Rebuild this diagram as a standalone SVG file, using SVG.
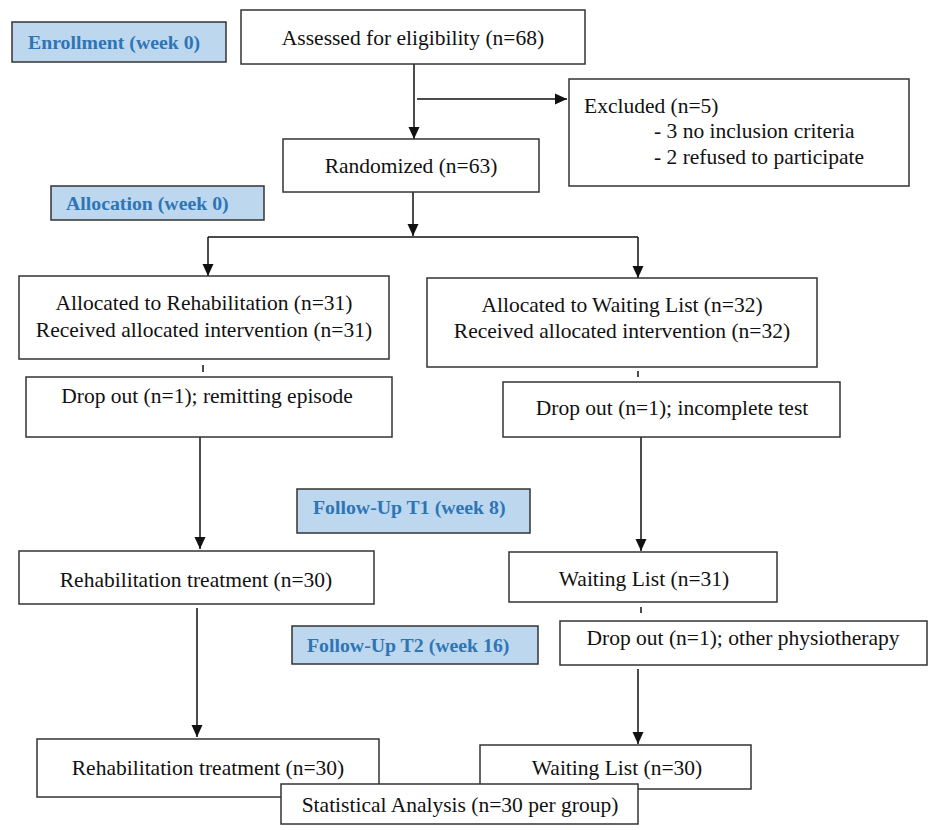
<svg xmlns="http://www.w3.org/2000/svg" width="935" height="830" viewBox="0 0 935 830">
<style>
.box{fill:#ffffff;stroke:#333333;stroke-width:1.5}
.lab{fill:#bdd7ee;stroke:#333333;stroke-width:1.5}
.t{font-family:"Liberation Serif","Times New Roman",serif;font-size:21.5px;fill:#111111}
.c{text-anchor:middle}
.lt{font-family:"Liberation Serif","Times New Roman",serif;font-size:19.8px;font-weight:bold;fill:#2e75b6}
.ln{stroke:#111111;stroke-width:1.5;fill:none}
</style>
<defs>
<marker id="ah" viewBox="0 0 12 12" refX="12" refY="6" markerWidth="12" markerHeight="12" markerUnits="userSpaceOnUse" orient="auto">
<path d="M0,0.5 L12,6 L0,11.5 Z" fill="#111111"/>
</marker>
</defs>
<rect width="935" height="830" fill="#ffffff"/>

<g id="connectors">
<line class="ln" x1="414" y1="64" x2="414" y2="139" marker-end="url(#ah)"/>
<line class="ln" x1="417" y1="99" x2="567" y2="99" marker-end="url(#ah)"/>
<line class="ln" x1="413" y1="192" x2="413" y2="236" marker-end="url(#ah)"/>
<line class="ln" x1="208" y1="237" x2="638" y2="237"/>
<line class="ln" x1="208" y1="237" x2="208" y2="276" marker-end="url(#ah)"/>
<line class="ln" x1="638" y1="237" x2="638" y2="278" marker-end="url(#ah)"/>
<line class="ln" x1="203" y1="365" x2="203" y2="372"/>
<line class="ln" x1="638" y1="371" x2="638" y2="377"/>
<line class="ln" x1="200" y1="437" x2="200" y2="549" marker-end="url(#ah)"/>
<line class="ln" x1="641" y1="437" x2="641" y2="551" marker-end="url(#ah)"/>
<line class="ln" x1="641" y1="607" x2="641" y2="613"/>
<line class="ln" x1="197" y1="608" x2="197" y2="737" marker-end="url(#ah)"/>
<line class="ln" x1="638" y1="669" x2="638" y2="744" marker-end="url(#ah)"/>
</g>

<g id="label-enrollment">
<rect class="lab" x="12" y="22" width="214" height="40"/>
<text class="lt" x="28" y="49">Enrollment (week 0)</text>
</g>
<g id="label-allocation">
<rect class="lab" x="51" y="186" width="213" height="34"/>
<text class="lt" x="66" y="210">Allocation (week 0)</text>
</g>
<g id="label-t1">
<rect class="lab" x="297" y="489" width="233" height="44"/>
<text class="lt" x="313" y="514">Follow-Up T1 (week 8)</text>
</g>
<g id="label-t2">
<rect class="lab" x="292" y="626" width="246" height="38"/>
<text class="lt" x="307" y="652">Follow-Up T2 (week 16)</text>
</g>

<g id="assessed">
<rect class="box" x="241" y="10" width="344" height="54"/>
<text class="t c" x="413" y="45">Assessed for eligibility (n=68)</text>
</g>
<g id="excluded">
<rect class="box" x="569" y="79" width="340" height="107"/>
<text class="t" x="584" y="113">Excluded (n=5)</text>
<text class="t" x="654" y="138">- 3 no inclusion criteria</text>
<text class="t" x="654" y="164">- 2 refused to participate</text>
</g>
<g id="randomized">
<rect class="box" x="283" y="139" width="256" height="53"/>
<text class="t c" x="411" y="173">Randomized (n=63)</text>
</g>
<g id="alloc-rehab">
<rect class="box" x="19" y="276" width="370" height="83"/>
<text class="t c" x="204" y="310">Allocated to Rehabilitation (n=31)</text>
<text class="t c" x="204" y="337">Received allocated intervention (n=31)</text>
</g>
<g id="alloc-wait">
<rect class="box" x="427" y="278" width="390" height="89"/>
<text class="t c" x="622" y="312">Allocated to Waiting List (n=32)</text>
<text class="t c" x="622" y="338">Received allocated intervention (n=32)</text>
</g>
<g id="drop-rehab">
<rect class="box" x="26" y="377" width="366" height="60"/>
<text class="t c" x="207" y="403">Drop out (n=1); remitting episode</text>
</g>
<g id="drop-wait">
<rect class="box" x="503" y="382" width="337" height="55"/>
<text class="t c" x="672" y="415">Drop out (n=1); incomplete test</text>
</g>
<g id="rehab-t1">
<rect class="box" x="19" y="551" width="355" height="53"/>
<text class="t c" x="196" y="587">Rehabilitation treatment (n=30)</text>
</g>
<g id="wait-t1">
<rect class="box" x="509" y="552" width="268" height="50"/>
<text class="t c" x="644" y="586">Waiting List (n=31)</text>
</g>
<g id="drop-wait-t2">
<rect class="box" x="560" y="621" width="367" height="44"/>
<text class="t c" x="743" y="645">Drop out (n=1); other physiotherapy</text>
</g>
<g id="rehab-t2">
<rect class="box" x="37" y="739" width="342" height="58"/>
<text class="t c" x="208" y="775">Rehabilitation treatment (n=30)</text>
</g>
<g id="wait-t2">
<rect class="box" x="480" y="745" width="271" height="44"/>
<text class="t c" x="617" y="775">Waiting List (n=30)</text>
</g>
<g id="statistical">
<rect class="box" x="281" y="784" width="357" height="40"/>
<text class="t c" x="460" y="812">Statistical Analysis (n=30 per group)</text>
</g>
</svg>
